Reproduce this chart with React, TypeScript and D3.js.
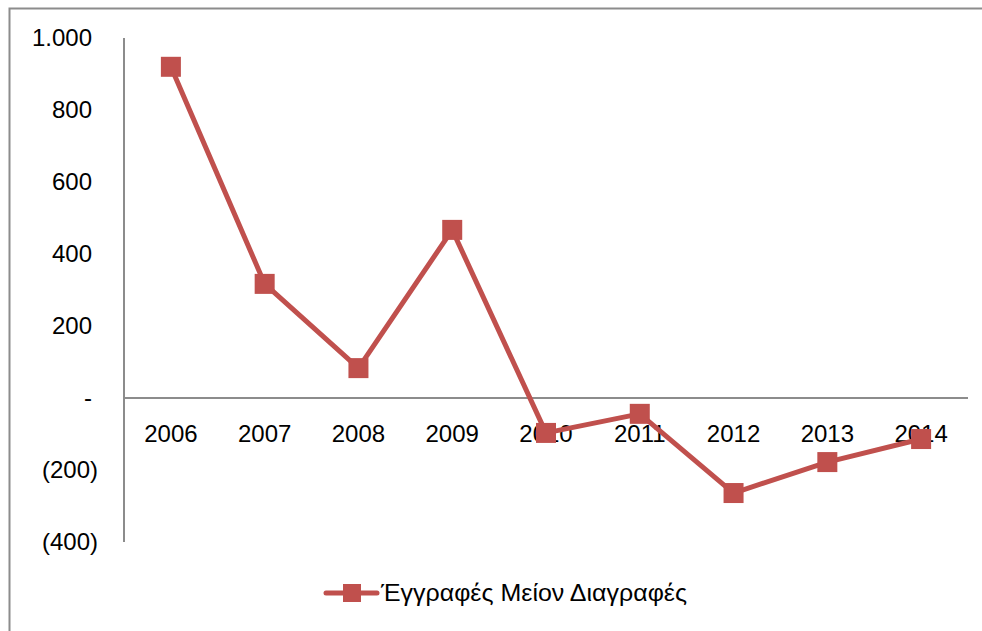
import React, { useEffect, useRef } from 'react';
import * as d3 from 'd3';

const years = ['2006', '2007', '2008', '2009', '2010', '2011', '2012', '2013', '2014'];
const netValues = [920, 317, 83, 467, -97, -44, -264, -178, -114];
const yTicks = [1000, 800, 600, 400, 200, 0, -200, -400];
const seriesName = 'Έγγραφές Μείον Διαγραφές';

const fmt = (v) => {
  if (v === 0) return '-';
  const s = d3.format(',')(Math.abs(v)).replace(/,/g, '.');
  return v < 0 ? `(${s})` : s;
};

const App = () => {
  const svgRef = useRef(null);

  useEffect(() => {
    const width = 982;
    const height = 631;
    const color = '#C0504D';
    const font = '"Liberation Sans", Arial, sans-serif';

    const svg = d3.select(svgRef.current);
    svg.selectAll('*').remove();

    // outer chart frame (runs past the right and bottom edges)
    svg.append('rect')
      .attr('x', 9.5).attr('y', 8.5)
      .attr('width', 1000).attr('height', 700)
      .attr('fill', 'none').attr('stroke', '#8c8c8c').attr('stroke-width', 2);

    const x = d3.scaleBand().domain(years).range([124, 968]);
    const y = d3.scaleLinear().domain([-400, 1000]).range([542, 38]);

    // y axis line
    svg.append('line')
      .attr('x1', 124).attr('x2', 124)
      .attr('y1', y(1000)).attr('y2', y(-400))
      .attr('stroke', '#8c8c8c').attr('stroke-width', 2);

    // zero line (category axis)
    svg.append('line')
      .attr('x1', 124).attr('x2', 968)
      .attr('y1', y(0)).attr('y2', y(0))
      .attr('stroke', '#8c8c8c').attr('stroke-width', 2);

    // negatives hang their closing bracket past the number column
    svg.append('g').selectAll('text')
      .data(yTicks)
      .enter()
      .append('text')
      .attr('x', (d) => (d < 0 ? 98 : 92))
      .attr('y', (d) => y(d))
      .attr('dy', '0.35em')
      .attr('text-anchor', 'end')
      .attr('font-family', font)
      .attr('font-size', 24)
      .attr('fill', '#000')
      .text((d) => fmt(d));

    svg.append('g').selectAll('text')
      .data(years)
      .enter()
      .append('text')
      .attr('x', (d) => x(d) + x.bandwidth() / 2)
      .attr('y', 434)
      .attr('dy', '0.35em')
      .attr('text-anchor', 'middle')
      .attr('font-family', font)
      .attr('font-size', 24)
      .attr('fill', '#000')
      .text((d) => d);

    const line = d3.line()
      .x((d, i) => x(years[i]) + x.bandwidth() / 2)
      .y((d) => y(d));

    svg.append('path')
      .datum(netValues)
      .attr('d', line)
      .attr('fill', 'none')
      .attr('stroke', color)
      .attr('stroke-width', 5)
      .attr('stroke-linejoin', 'round');

    svg.append('g').selectAll('rect')
      .data(netValues)
      .enter()
      .append('rect')
      .attr('x', (d, i) => x(years[i]) + x.bandwidth() / 2 - 10)
      .attr('y', (d) => y(d) - 10)
      .attr('width', 20)
      .attr('height', 20)
      .attr('fill', color);

    // legend
    const lg = svg.append('g');
    lg.append('line')
      .attr('x1', 326).attr('x2', 377)
      .attr('y1', 593).attr('y2', 593)
      .attr('stroke', color).attr('stroke-width', 5)
      .attr('stroke-linecap', 'round');
    lg.append('rect')
      .attr('x', 343).attr('y', 584)
      .attr('width', 18).attr('height', 18)
      .attr('fill', color);
    lg.append('text')
      .attr('x', 381).attr('y', 593)
      .attr('dy', '0.35em')
      .attr('font-family', font)
      .attr('font-size', 24)
      .attr('textLength', 306)
      .attr('lengthAdjust', 'spacingAndGlyphs')
      .attr('fill', '#000')
      .text(seriesName);
  }, []);

  return (
    <svg ref={svgRef} width={982} height={631}
      style={{ position: 'absolute', left: 0, top: 0, background: '#fff' }} />
  );
};

export default App;
